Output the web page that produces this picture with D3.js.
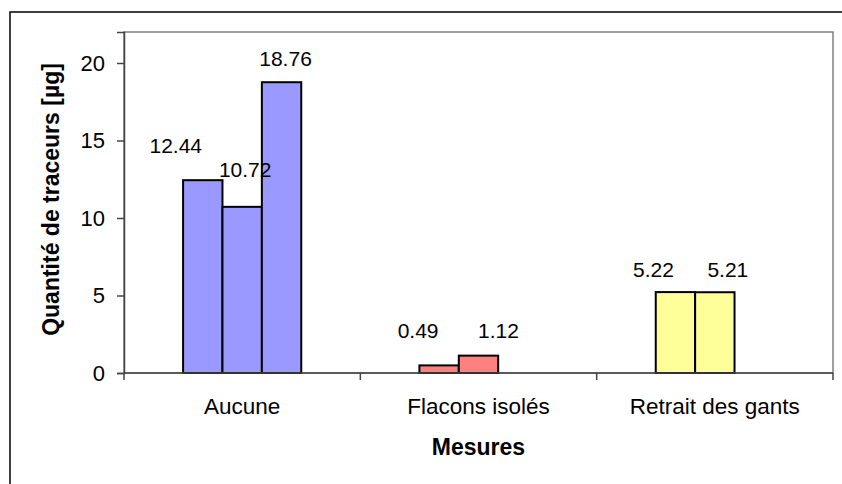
<!DOCTYPE html>
<html>
<head>
<meta charset="utf-8">
<script src="https://cdn.jsdelivr.net/npm/d3@7"></script>
<style>
  html, body { margin: 0; padding: 0; background: #fff; }
  svg { display: block; font-family: "Liberation Sans", Arial, Helvetica, sans-serif; }
</style>
</head>
<body>
<svg id="chart" width="842" height="484"></svg>
<script>
// Categories and the three measured series
const categories = ["Aucune", "Flacons isolés", "Retrait des gants"];
const seriesA = [12.44, 0.49, 5.22];
const seriesB = [10.72, 1.12, 5.21];
const seriesC = [18.76, null, null];
const yTicks = [0, 5, 10, 15, 20];
const categoryColors = ["#9999ff", "#ff8080", "#ffff99"];

// Hand-placed offsets of the value labels (dx from bar centre, dy of baseline from bar top)
const labelNudge = [
  [[-27, -27], [-21, -27], [-22, -15]],
  [[3, -30], [20, -18], [13, -15]],
  [[4, -16], [0, 0], [0, 0]]
];

const svg = d3.select("#chart");
const W = 842, H = 484;
const plot = { left: 124, right: 833, top: 32, bottom: 373 };

// Outer chart frame (open to the right and bottom)
svg.append("path")
  .attr("d", `M10,${H + 2}V12H${W + 2}`)
  .attr("fill", "none").attr("stroke", "#000").attr("stroke-width", 1.5);

const x = d3.scaleBand().domain(categories).range([plot.left, plot.right]).paddingInner(0).paddingOuter(0);
const series = [seriesA, seriesB, seriesC];
const slot = d3.scaleBand().domain(d3.range(series.length))
  .range([0, x.bandwidth() / 2]);
const y = d3.scaleLinear().domain([0, 22]).range([plot.bottom, plot.top]);

// Plot area outline
svg.append("rect")
  .attr("x", plot.left).attr("y", plot.top)
  .attr("width", plot.right - plot.left).attr("height", plot.bottom - plot.top)
  .attr("fill", "#fff").attr("stroke", "#808080").attr("stroke-width", 1.5);

// Bars
const bars = [];
series.forEach((vals, si) => {
  vals.forEach((v, ci) => {
    if (v == null) return;
    bars.push({ si, ci, v });
  });
});

svg.append("g").selectAll("rect").data(bars).join("rect")
  .attr("x", d => x(categories[d.ci]) + x.bandwidth() / 4 + slot(d.si))
  .attr("y", d => y(d.v))
  .attr("width", slot.bandwidth())
  .attr("height", d => y(0) - y(d.v))
  .attr("fill", d => categoryColors[d.ci])
  .attr("stroke", "#000").attr("stroke-width", 2);

// Value labels
svg.append("g").selectAll("text").data(bars).join("text")
  .attr("x", d => x(categories[d.ci]) + x.bandwidth() / 4 + slot(d.si) + slot.bandwidth() / 2 + labelNudge[d.si][d.ci][0])
  .attr("y", d => y(d.v) + labelNudge[d.si][d.ci][1])
  .attr("text-anchor", "middle").attr("font-size", 21)
  .text(d => d.v.toFixed(2));

// Y axis
const yAxis = svg.append("g").attr("transform", `translate(${plot.left},0)`)
  .call(d3.axisLeft(y).tickValues(yTicks).tickSize(7).tickPadding(12).tickFormat(d3.format("d")));
yAxis.select(".domain").attr("stroke", "#444").attr("stroke-width", 1.5);
yAxis.selectAll(".tick line").attr("stroke", "#444").attr("stroke-width", 1.5);
yAxis.selectAll(".tick text").attr("font-size", 22).attr("fill", "#000")
  .attr("font-family", "Liberation Sans, Arial, sans-serif");

// X axis with boundary ticks between categories
const xAxis = svg.append("g").attr("transform", `translate(0,${plot.bottom})`);
xAxis.append("line").attr("x1", plot.left).attr("x2", plot.right)
  .attr("stroke", "#444").attr("stroke-width", 1.5);
const bounds = categories.map(c => x(c)).concat([x(categories[categories.length - 1]) + x.bandwidth()]);
xAxis.selectAll(".bt").data(bounds).join("line").attr("class", "bt")
  .attr("x1", d => d).attr("x2", d => d).attr("y1", 0).attr("y2", 7)
  .attr("stroke", "#444").attr("stroke-width", 1.5);
xAxis.selectAll(".cl").data(categories).join("text").attr("class", "cl")
  .attr("x", d => x(d) + x.bandwidth() / 2).attr("y", 41)
  .attr("text-anchor", "middle").attr("font-size", 22.5).text(d => d);

// Axis titles
svg.append("text")
  .attr("x", (plot.left + plot.right) / 2).attr("y", 455)
  .attr("text-anchor", "middle").attr("font-size", 23).attr("font-weight", "bold")
  .text("Mesures");
svg.append("text")
  .attr("transform", `translate(59,${(plot.top + plot.bottom) / 2 - 3}) rotate(-90)`)
  .attr("text-anchor", "middle").attr("font-size", 23).attr("font-weight", "bold")
  .text("Quantité de traceurs [µg]");
</script>
</body>
</html>
